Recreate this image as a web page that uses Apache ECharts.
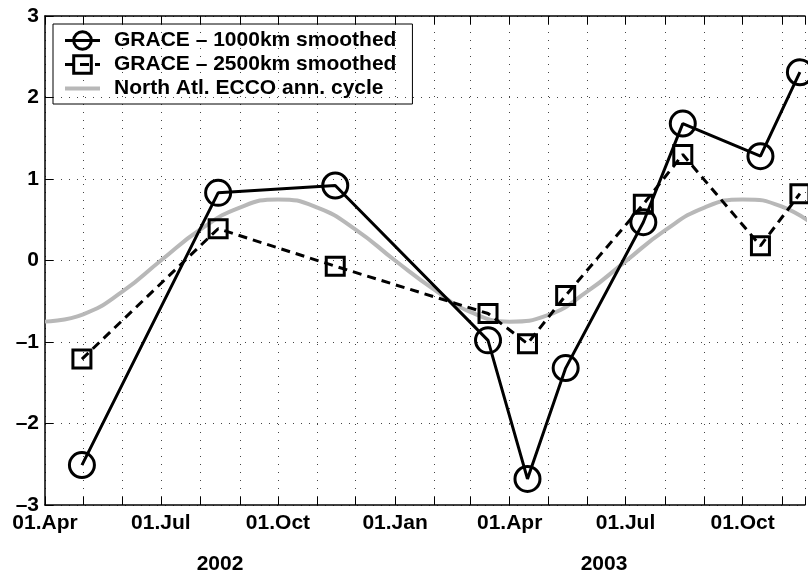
<!DOCTYPE html>
<html>
<head>
<meta charset="utf-8">
<script src="https://cdn.jsdelivr.net/npm/echarts@6/dist/echarts.min.js"></script>
<style>
html, body { margin: 0; padding: 0; background: #fff; }
#box { width: 808px; height: 573px; }
</style>
</head>
<body>
<div id="box"></div>
<script>
// GRACE sample dates and values
const graceDates = ['2002-04-30', '2002-08-15', '2002-11-15', '2003-03-15', '2003-04-15',
                    '2003-05-15', '2003-07-15', '2003-08-15', '2003-10-15', '2003-11-15'];
const grace1000 = [-2.51, 0.83, 0.92, -0.98, -2.68, -1.32, 0.47, 1.68, 1.28, 2.31];
const grace2500 = [-1.21, 0.39, -0.07, -0.65, -1.02, -0.43, 0.69, 1.30, 0.18, 0.82];

// ECCO annual cycle, monthly
const eccoDates = ['2002-04-01', '2002-05-01', '2002-06-01', '2002-07-01', '2002-08-01', '2002-09-01',
                   '2002-10-01', '2002-11-01', '2002-12-01', '2003-01-01', '2003-02-01', '2003-03-01',
                   '2003-04-01', '2003-05-01', '2003-06-01', '2003-07-01', '2003-08-01', '2003-09-01',
                   '2003-10-01', '2003-11-01', '2003-12-01'];
const eccoCycle = [-0.75, -0.66, -0.38, 0.00, 0.38, 0.65, 0.75, 0.65, 0.38, 0.00, -0.36, -0.63,
                   -0.75, -0.67, -0.38, -0.01, 0.37, 0.65, 0.75, 0.66, 0.38];

const monthNames = ['Jan', 'Feb', 'Mar', 'Apr', 'May', 'Jun', 'Jul', 'Aug', 'Sep', 'Oct', 'Nov', 'Dec'];
const yearLabels = ['2002', '2003'];
const seriesNames = ['GRACE – 1000km smoothed', 'GRACE – 2500km smoothed', 'North Atl. ECCO ann. cycle'];

const DAY = 86400000;
const font = 'Liberation Sans';

function pairs(dates, vals) {
    return dates.map(function (d, i) { return [d, vals[i]]; });
}

let chart = echarts.init(document.getElementById('box'));

const xMin = new Date(2002, 3, 1).getTime();
const xMax = new Date(2003, 10, 19).getTime();

// only quarter starts get a label, every month gets a tick
function xLabel(value) {
    let d = new Date(value);
    if (d.getDate() !== 1 || d.getMonth() % 3 !== 0) return '';
    return '01.' + monthNames[d.getMonth()];
}

const dotted = { color: '#444', width: 1, type: [1, 7] };

let option = {
    backgroundColor: '#fff',
    animation: false,
    grid: { left: 45, right: 0, top: 16, bottom: 68 },
    legend: {
        orient: 'vertical',
        left: 53,
        top: 24,
        padding: [6, 16, 5, 10],
        itemWidth: 35,
        itemHeight: 22,
        itemGap: 3,
        borderColor: '#000',
        borderWidth: 1,
        lineStyle: { width: 'inherit' },
        itemStyle: { borderWidth: 'inherit' },
        textStyle: { fontFamily: font, fontWeight: 'bold', fontSize: 21, color: '#000', padding: [0, 0, 0, 9] },
        data: [
            { name: seriesNames[0] },
            { name: seriesNames[1] },
            { name: seriesNames[2], itemStyle: { color: 'rgba(0,0,0,0)', borderColor: 'rgba(0,0,0,0)' } }
        ]
    },
    xAxis: [{
        type: 'time',
        min: xMin,
        max: xMax,
        splitNumber: 20,
        minInterval: 31 * DAY,
        maxInterval: 31 * DAY,
        axisLine: { onZero: false, lineStyle: { color: '#000', width: 1.5 } },
        axisTick: { inside: true, length: 8, lineStyle: { color: '#000', width: 1 } },
        axisLabel: {
            formatter: xLabel, margin: 8, color: '#000',
            fontFamily: font, fontWeight: 'bold', fontSize: 21,
            showMinLabel: true, showMaxLabel: true, hideOverlap: false
        },
        splitLine: { show: true, lineStyle: dotted }
    }, {
        type: 'time',
        position: 'top',
        min: xMin,
        max: xMax,
        splitNumber: 20,
        minInterval: 31 * DAY,
        maxInterval: 31 * DAY,
        axisLine: { onZero: false, lineStyle: { color: '#000', width: 1.5 } },
        axisTick: { inside: true, length: 8, lineStyle: { color: '#000', width: 1 } },
        axisLabel: { show: false },
        splitLine: { show: false }
    }],
    yAxis: {
        type: 'value',
        min: -3,
        max: 3,
        interval: 1,
        axisLine: { show: true, lineStyle: { color: '#000', width: 1.5 } },
        axisTick: { show: true, inside: true, length: 8, lineStyle: { color: '#000', width: 1 } },
        axisLabel: {
            margin: 6, color: '#000', fontFamily: font, fontWeight: 'bold', fontSize: 21,
            formatter: function (v) { return String(v).replace('-', '\u2013'); }
        },
        splitLine: { show: true, lineStyle: dotted }
    },
    graphic: yearLabels.map(function (t, i) {
        return {
            type: 'text',
            x: [220, 604][i],
            y: 564,
            style: {
                text: t, fill: '#000', font: 'bold 21px ' + font,
                textAlign: 'center', textVerticalAlign: 'middle'
            }
        };
    }),
    series: [{
        name: seriesNames[2],
        type: 'line',
        data: pairs(eccoDates, eccoCycle),
        smooth: 0.5,
        symbol: 'circle',
        showSymbol: false,
        z: 1,
        itemStyle: { color: 'rgba(0,0,0,0)' },
        lineStyle: { color: '#b8b8b8', width: 4 }
    }, {
        name: seriesNames[0],
        type: 'line',
        data: pairs(graceDates, grace1000),
        symbol: 'circle',
        symbolSize: 25,
        z: 3,
        itemStyle: { color: 'rgba(0,0,0,0)', borderColor: '#000', borderWidth: 3 },
        lineStyle: { color: '#000', width: 3 }
    }, {
        name: seriesNames[1],
        type: 'line',
        data: pairs(graceDates, grace2500),
        symbol: 'rect',
        symbolSize: 18,
        z: 2,
        itemStyle: { color: 'rgba(0,0,0,0)', borderColor: '#000', borderWidth: 3 },
        lineStyle: { color: '#000', width: 3, type: [9, 6] }
    }]
};

chart.setOption(option);
</script>
</body>
</html>
